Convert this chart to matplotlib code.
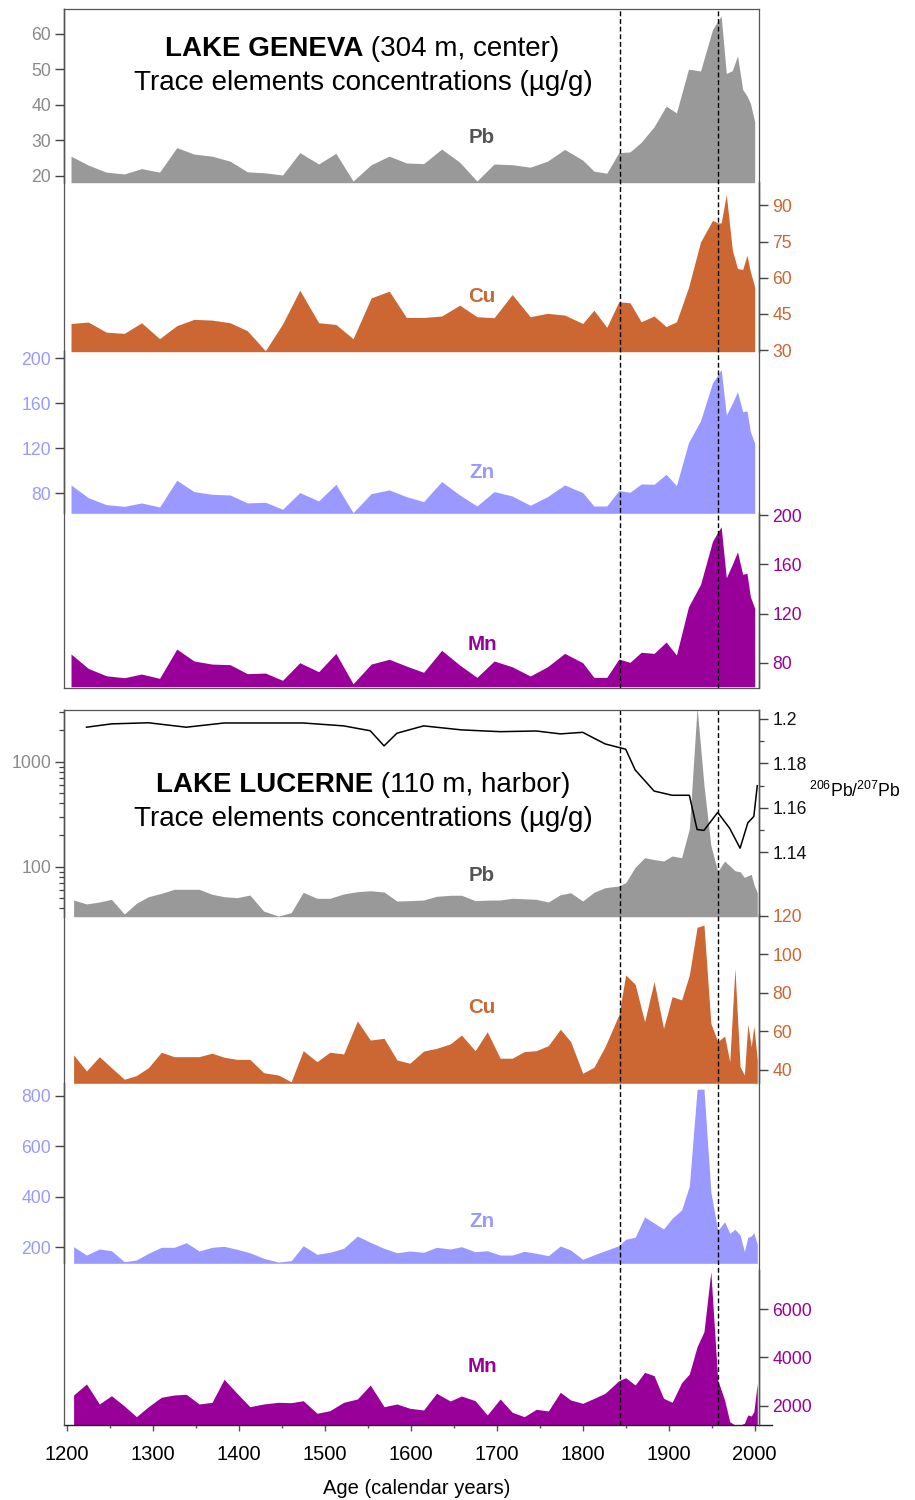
import matplotlib
matplotlib.use('Agg')
import matplotlib.pyplot as plt
from matplotlib.ticker import FixedLocator, NullFormatter, NullLocator, FuncFormatter
from matplotlib.text import Annotation

plt.rcParams['font.family'] = ['Liberation Sans', 'DejaVu Sans']
plt.rcParams['mathtext.fontset'] = 'custom'
plt.rcParams['mathtext.rm'] = 'Liberation Sans'
plt.rcParams['mathtext.it'] = 'Liberation Sans:italic'
plt.rcParams['mathtext.bf'] = 'Liberation Sans:bold'

# ---------------- DATA ----------------
# Lake Geneva (304 m, center)
geneva_years = [1205, 1225, 1246, 1267, 1287, 1308, 1328, 1348, 1369, 1390, 1410, 1431, 1451, 1471,
                1493, 1513, 1533, 1554, 1575, 1595, 1615, 1636, 1657, 1677, 1697, 1718, 1739, 1759,
                1779, 1800, 1813, 1828, 1842, 1855, 1868, 1883, 1897, 1909, 1923, 1937, 1951, 1957,
                1961, 1967, 1974, 1980, 1986, 1991, 1995, 2000]
geneva_pb = [25.5, 23, 21, 20.5, 22, 21, 27.9, 26.1, 25.5, 24.1, 21.1, 20.8, 20.2, 26.5, 23.3, 26.3,
             18.5, 23.1, 25.5, 23.6, 23.4, 27.5, 23.8, 18.5, 23.3, 23.1, 22.4, 24.1, 27.4, 24.4,
             21.3, 20.7, 26.5, 26.7, 29.4, 33.8, 39.6, 37.7, 50, 49.5, 61.2, 63.5, 65, 48.8, 49.6,
             53.8, 44.3, 42.5, 40.4, 35.2]
geneva_cu = [41.0, 41.6, 37.4, 36.9, 41.3, 34.7, 40.1, 42.7, 42.4, 41.3, 38, 29.7, 40.8, 54.8, 41.3,
             40.6, 34.7, 51.6, 54.4, 43.5, 43.5, 44.1, 48.6, 43.8, 43.4, 53, 43.8, 45.2, 44.5, 41.0,
             46.5, 39.4, 50, 49.6, 41.7, 44.1, 39.7, 41.7, 55.9, 74.8, 83.8, 82.7, 82.7, 94.5, 71.4,
             63.8, 63.4, 69.3, 62.5, 56.2]
geneva_zn = [87.4, 76.1, 69.9, 68.4, 71.4, 67.8, 91.6, 81.5, 79.1, 78.5, 71.4, 72, 65.8, 80.6, 73.2,
             88.0, 62.8, 79.7, 83, 77, 72.6, 90.4, 78.5, 68.7, 81.5, 77.6, 69.3, 77, 87.4, 80.6,
             68.7, 68.7, 82.4, 80.9, 88.3, 88, 96.9, 86.8, 125, 144.5, 178.3, 185, 190.2, 149.6, 160,
             170.3, 152.5, 153.2, 134.8, 124.4]
geneva_mn = [87.1, 75.4, 69.4, 67.8, 70.8, 67.3, 91.1, 81.4, 78.9, 78.4, 71.1, 71.6, 65.7, 80, 72.7,
             87.6, 62.9, 78.9, 82.8, 77.3, 72.2, 90.1, 78.1, 68.1, 81.4, 76.7, 69.2, 76.7, 87.6, 80,
             68.1, 68.1, 83, 80.3, 88.5, 87.6, 96.8, 86.3, 125.5, 143.7, 178.9, 186, 190.6, 149.1, 160,
             170.2, 151.9, 152.7, 133.7, 124.2]

# Lake Lucerne (110 m, harbor)
lucerne_years = [1208, 1223, 1238, 1252, 1267, 1281, 1295, 1310, 1325, 1339, 1354, 1369, 1383, 1398,
                 1413, 1429, 1446, 1461, 1475, 1491, 1506, 1522, 1538, 1553, 1569, 1584, 1599, 1615,
                 1630, 1646, 1659, 1675, 1689, 1704, 1718, 1732, 1746, 1760, 1774, 1786, 1800, 1813,
                 1826, 1842, 1850, 1861, 1872, 1883, 1894, 1904, 1915, 1924, 1933, 1941, 1949, 1957,
                 1965, 1971, 1977, 1983, 1988, 1992, 1996, 1999, 2003]
lucerne_pb = [48.2, 44.2, 46.1, 48.9, 35.4, 44.8, 51.8, 55.7, 60.9, 60.9,
              60.9, 54.6, 51.8, 50.7, 53.7, 37.8, 33.9, 36.5, 57, 50,
              50, 55, 57.8, 59, 57.4, 47.1, 47.5, 48.2, 52.2, 53.4,
              53.5, 47.5, 48, 48.2, 50, 49.5, 48.9, 46.1, 54.1, 56.5,
              47.1, 57, 63.1, 65.5, 70.4, 98.7, 121.8, 117, 113.3, 126.4,
              121.8, 230, 3300, 600, 160, 90, 113, 102, 91.6, 89.6,
              79, 82, 84.6, 68, 56.5]
lucerne_cu = [47.8, 39.5, 46.9, 41.2, 35.2, 37.1, 41.2, 49.2, 46.9, 46.9,
              46.9, 48.7, 46.6, 45.5, 45.5, 38.6, 37.4, 33.9, 50, 44.3,
              49.2, 48.3, 65.4, 55.5, 56.4, 45.2, 43.5, 49.8, 51.2, 53.5,
              58.1, 50, 59.8, 46.1, 46.1, 49.5, 50, 52.6, 61.1, 54.7,
              38.3, 41.4, 52.1, 68.5, 89.2, 84.4, 65, 85.8, 61.6, 78,
              76.3, 89.2, 113.9, 115.1, 64.2, 54.7, 57.6, 44.3, 92.7, 41.7,
              37.4, 63.7, 52.1, 62.8, 45.2]
lucerne_zn = [202.4, 169.5, 193.3, 186.5, 143, 149.7, 176.3, 200, 200, 218.2,
              185.4, 200, 204, 192.1, 178.6, 156.5, 141.8, 147, 206.3, 172.3,
              180.2, 196, 244.7, 219.8, 196, 178.6, 185.4, 180.2, 200, 193.3,
              202.4, 182.6, 186.5, 169.5, 169.5, 184.2, 176.3, 166.8, 205.1, 189.3,
              152.5, 170, 186.5, 206.3, 231.7, 239.6, 320, 296, 272.4, 314.8,
              347.6, 442.6, 825.3, 826.4, 420, 266, 301.3, 255.4, 271.2, 248.7,
              182.6, 239.6, 245, 258, 212]
lucerne_mn = [2443, 2898, 2070, 2414, 1988, 1545, 1959, 2347, 2443, 2471,
              2070, 2140, 3092, 2513, 1959, 2070, 2140, 2124, 2207, 1686,
              1793, 2140, 2277, 2856, 1959, 2070, 1892, 1822, 2513, 2194,
              2401, 2207, 1615, 2277, 1727, 1545, 1851, 1781, 2554, 2236,
              2099, 2300, 2513, 3034, 3158, 2856, 3381, 3241, 2306, 2140,
              2952, 3312, 4441, 5062, 7544, 3063, 2236, 1338, 1200, 1200,
              1270, 1615, 1574, 1752, 2927]
ratio_years = [1223, 1252, 1295, 1339, 1383, 1475, 1522, 1553, 1569, 1584, 1615, 1659, 1704, 1746,
               1774, 1800, 1826, 1850, 1861, 1883, 1904, 1924, 1933, 1941, 1957, 1971, 1983, 1992,
               1999, 2003]
ratio_206_207 = [1.1963, 1.1978, 1.1983, 1.1963, 1.1982, 1.1982, 1.1969, 1.1947, 1.1879, 1.1936,
                 1.1969, 1.1951, 1.1943, 1.1946, 1.1933, 1.1940, 1.1888, 1.1864, 1.1771, 1.1676,
                 1.1657, 1.1657, 1.1503, 1.1499, 1.1580, 1.1508, 1.1419, 1.1533, 1.1562, 1.1700]
event_years = [1843, 1957]
x_ticks = [1200, 1300, 1400, 1500, 1600, 1700, 1800, 1900, 2000]
x_minor = [1250, 1350, 1450, 1550, 1650, 1750, 1850, 1950]

# ---------------- STYLE ----------------
C_PB, C_CU, C_ZN, C_MN = '#999999', '#CC6633', '#9999FF', '#990099'
T_PB = '#8a8a8a'
W, H = 915, 1500
XL, XR = 64.3, 759.0
YEAR0, YEAR1 = 1197.2, 2005.0

fig = plt.figure(figsize=(W / 100, H / 100), dpi=100)


def rect(x0, y0, x1, y1):
    return [x0 / W, 1 - y1 / H, (x1 - x0) / W, (y1 - y0) / H]


fmt = FuncFormatter(lambda v, p: f'{v:g}')


def sub_axes(y0, y1, ylim, side, tcolor, ticks, log=False, minor=None):
    ax = fig.add_axes(rect(XL, y0, XR, y1))
    ax.set_xlim(YEAR0, YEAR1)
    if log:
        ax.set_yscale('log')
    ax.set_ylim(*ylim)
    ax.patch.set_visible(False)
    for s in ['top', 'bottom', 'left', 'right']:
        ax.spines[s].set_visible(s == side)
    ax.spines[side].set_linewidth(1.0)
    ax.spines[side].set_color('#222222')
    ax.xaxis.set_visible(False)
    ax.yaxis.set_ticks_position(side)
    ax.yaxis.set_major_locator(FixedLocator(ticks))
    ax.yaxis.set_major_formatter(fmt)
    ax.yaxis.set_minor_locator(FixedLocator(minor) if minor else NullLocator())
    ax.yaxis.set_minor_formatter(NullFormatter())
    ax.tick_params(axis='y', which='major', direction='out', length=6.5, width=1.0,
                   color='#444444', labelsize=12.7, labelcolor=tcolor, pad=3)
    ax.tick_params(axis='y', which='minor', direction='out', length=3.6, width=0.9,
                   color='#444444')
    return ax


def area(ax, years, vals, color):
    ax.fill_between(years, vals, ax.get_ylim()[0], color=color, lw=0)


def frame(y0, y1, bottom=True):
    ax = fig.add_axes(rect(XL, y0, XR, y1), zorder=5)
    ax.set_xlim(YEAR0, YEAR1)
    ax.set_ylim(0, 1)
    ax.patch.set_visible(False)
    ax.set_xticks([])
    ax.set_yticks([])
    for s in ax.spines.values():
        s.set_color('#555555')
        s.set_linewidth(0.9)
    if not bottom:
        ax.spines['bottom'].set_visible(False)
    for yr in event_years:
        ax.axvline(yr, color='black', lw=1.0, ls=(0, (3.5, 2)))
    return ax


def ftext(x, y, s, **kw):
    return fig.text(x / W, 1 - y / H, s, **kw)


# ---------------- LAKE GENEVA ----------------
ax = sub_axes(9, 182.7, (18.03, 66.96), 'left', T_PB, [20, 30, 40, 50, 60])
area(ax, geneva_years, geneva_pb, C_PB)
ax = sub_axes(181.7, 351.7, (29.3, 99.8), 'right', C_CU, [30, 45, 60, 75, 90])
area(ax, geneva_years, geneva_cu, C_CU)
ax = sub_axes(351.0, 513.3, (62.2, 206.5), 'left', C_ZN, [80, 120, 160, 200])
area(ax, geneva_years, geneva_zn, C_ZN)
ax = sub_axes(513.3, 686.7, (60.5, 201.5), 'right', C_MN, [80, 120, 160, 200])
area(ax, geneva_years, geneva_mn, C_MN)
frame(9, 687.7)

# ---------------- LAKE LUCERNE ----------------
pb_minor = [40, 50, 60, 70, 80, 90, 200, 300, 400, 500, 600, 700, 800, 900, 2000, 3000]
ax = sub_axes(710, 916.7, (33.4, 3108), 'left', T_PB, [100, 1000], log=True, minor=pb_minor)
area(ax, lucerne_years, lucerne_pb, C_PB)
ax = sub_axes(710, 916.7, (1.1111, 1.20404), 'right', '#111111', [1.14, 1.16, 1.18, 1.2],
              minor=[1.15, 1.17, 1.19])
ax.plot(ratio_years, ratio_206_207, color='black', lw=1.1)
ax = sub_axes(914, 1083.3, (33.1, 120.8), 'right', C_CU, [40, 60, 80, 100, 120])
area(ax, lucerne_years, lucerne_cu, C_CU)
ax = sub_axes(1083.3, 1263.3, (136.7, 849), 'left', C_ZN, [200, 400, 600, 800])
area(ax, lucerne_years, lucerne_zn, C_ZN)
ax = sub_axes(1270, 1425, (1201, 7614), 'right', C_MN, [2000, 4000, 6000])
area(ax, lucerne_years, lucerne_mn, C_MN)
frame(710, 1425, bottom=False)

# bottom time axis (extends slightly beyond the right frame)
XE = 772.0
axx = fig.add_axes(rect(XL, 1400, XE, 1425))
axx.set_xlim(YEAR0, YEAR0 + (XE - XL) * (YEAR1 - YEAR0) / (XR - XL))
axx.patch.set_visible(False)
for s in ['top', 'left', 'right']:
    axx.spines[s].set_visible(False)
axx.spines['bottom'].set_linewidth(1.0)
axx.spines['bottom'].set_color('#222222')
axx.set_yticks([])
axx.xaxis.set_major_locator(FixedLocator(x_ticks))
axx.xaxis.set_minor_locator(FixedLocator(x_minor))
axx.tick_params(axis='x', which='major', direction='out', length=4.3, width=1.0,
                color='#555555', labelsize=14.5, pad=10)
axx.tick_params(axis='x', which='minor', direction='out', length=2.5, width=1.0,
                color='#555555')

# ---------------- TEXT ----------------
t1 = ftext(165, 56, 'LAKE GENEVA', size=20, weight='bold', ha='left', va='baseline')
fig.add_artist(Annotation(' (304 m, center)', xy=(1, 0), xycoords=t1, size=20,
                          ha='left', va='bottom'))
ftext(363.5, 90, 'Trace elements concentrations (µg/g)', size=20, ha='center', va='baseline')
t2 = ftext(156, 791.7, 'LAKE LUCERNE', size=20, weight='bold', ha='left', va='baseline')
fig.add_artist(Annotation(' (110 m, harbor)', xy=(1, 0), xycoords=t2, size=20,
                          ha='left', va='bottom'))
ftext(363.5, 825.7, 'Trace elements concentrations (µg/g)', size=20, ha='center', va='baseline')

for (yb, name, col) in [(142.7, 'Pb', '#555555'), (301.7, 'Cu', C_CU), (477.7, 'Zn', C_ZN),
                        (650, 'Mn', C_MN), (880.7, 'Pb', '#555555'), (1012.7, 'Cu', C_CU),
                        (1227.3, 'Zn', C_ZN), (1372.3, 'Mn', C_MN)]:
    ftext(482, yb, name, size=14.8, weight='bold', color=col, ha='center', va='baseline')

ftext(809, 796.7, r'$^{206}$Pb/$^{207}$Pb', size=12.7, ha='left', va='baseline')
ftext(417, 1494, 'Age (calendar years)', size=14.5, ha='center', va='baseline')

fig.savefig('out.png', dpi=100)
